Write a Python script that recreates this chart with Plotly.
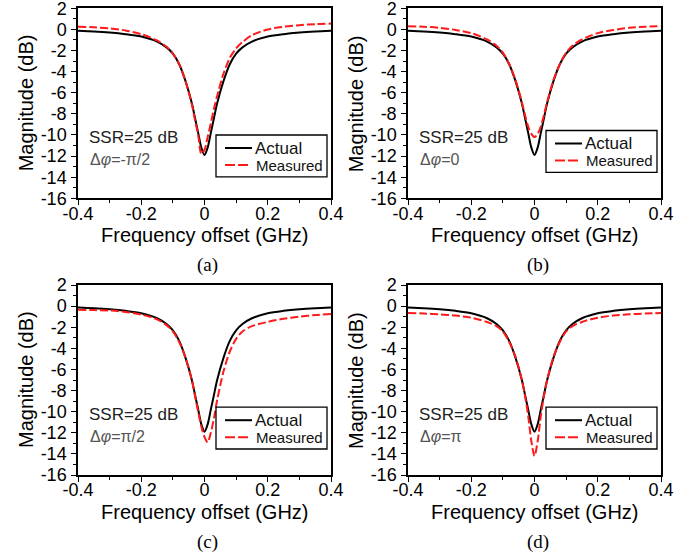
import plotly.graph_objects as go

# ---------------- data ----------------
freq = [-0.4, -0.35, -0.3, -0.25, -0.2, -0.15, -0.12, -0.1, -0.08, -0.06, -0.04, -0.03,
        -0.02, -0.01, 0.0, 0.01, 0.02, 0.03, 0.04, 0.06, 0.08, 0.1, 0.12, 0.15, 0.2,
        0.25, 0.3, 0.35, 0.4]

actual = [-0.13, -0.2, -0.3, -0.45, -0.68, -1.15, -1.7, -2.3, -3.3, -4.9, -7.0, -8.4,
          -9.8, -11.2, -11.9, -11.2, -9.8, -8.4, -7.0, -4.9, -3.3, -2.3, -1.7, -1.15, -0.68,
          -0.45, -0.3, -0.2, -0.13]

measured_a = [0.25, 0.2, 0.1, -0.1, -0.45, -1.05, -1.65, -2.3, -3.3, -4.9, -7.1, -8.6,
              -10.0, -11.8, -11.4, -10.2, -8.9, -7.5, -6.3, -4.2, -2.7, -1.8, -1.2, -0.55, 0.0,
              0.25, 0.4, 0.5, 0.55]

measured_b = [0.3, 0.25, 0.15, -0.05, -0.35, -0.95, -1.55, -2.2, -3.3, -4.8, -6.9, -8.1,
              -9.2, -9.9, -10.2, -9.9, -9.2, -8.1, -6.9, -4.8, -3.3, -2.2, -1.55, -0.95, -0.35,
              -0.05, 0.15, 0.25, 0.3]

measured_c = [-0.35, -0.38, -0.42, -0.55, -0.8, -1.25, -1.8, -2.4, -3.4, -4.9, -7.0, -8.5,
              -10.0, -11.4, -12.4, -12.9, -12.0, -10.6, -8.9, -6.2, -4.3, -3.1, -2.4, -1.9, -1.5,
              -1.2, -1.0, -0.85, -0.75]

measured_d = [-0.65, -0.7, -0.78, -0.9, -1.1, -1.5, -1.9, -2.4, -3.4, -4.8, -7.0, -8.5,
              -10.4, -12.8, -14.2, -12.8, -10.4, -8.5, -7.0, -4.8, -3.4, -2.4, -1.9, -1.5, -1.1,
              -0.9, -0.78, -0.7, -0.65]

measured_sets = [measured_a, measured_b, measured_c, measured_d]
phase_labels = ["-π/2", "0", "π/2", "π"]
panel_tags = ["(a)", "(b)", "(c)", "(d)"]
ssr_label = "SSR=25 dB"
series_names = ["Actual", "Measured"]

x_tickvals = [-0.4, -0.2, 0.0, 0.2, 0.4]
x_ticktext = ["-0.4", "-0.2", "0", "0.2", "0.4"]
y_tickvals = [2, 0, -2, -4, -6, -8, -10, -12, -14, -16]
y_ticktext = ["2", "0", "-2", "-4", "-6", "-8", "-10", "-12", "-14", "-16"]
x_title = "Frequency offset (GHz)"
y_title = "Magnitude (dB)"

# ---------------- layout geometry (pixels) ----------------
W, H = 695, 553
PW, PH = 253, 190
panel_pos = [(78, 8.3), (408, 8.3), (78, 285), (408, 285)]   # plot top-left corners
legend_shift = [0, -4.5, -4.5, -4.5]

SANS = "Liberation Sans, Arial, sans-serif"
SERIF = "Liberation Serif, Times New Roman, serif"
RED = "#ff1a1a"

fig = go.Figure()
shapes = []
annotations = []

for i in range(4):
    n = i + 1
    xs = "" if n == 1 else str(n)
    left, top = panel_pos[i]
    xdom = [left / W, (left + PW) / W]
    ydom = [1 - (top + PH) / H, 1 - top / H]

    fig.add_trace(go.Scatter(x=freq, y=actual, mode="lines", name=series_names[0],
                             line=dict(color="black", width=2, shape="spline", smoothing=0.8),
                             xaxis="x" + xs, yaxis="y" + xs, showlegend=False))
    fig.add_trace(go.Scatter(x=freq, y=measured_sets[i], mode="lines", name=series_names[1],
                             line=dict(color=RED, width=2, dash="8px,3px", shape="spline",
                                       smoothing=0.8),
                             xaxis="x" + xs, yaxis="y" + xs, showlegend=False))

    axis_common = dict(showline=True, mirror=True, linecolor="black", linewidth=1.5,
                       showgrid=False, zeroline=False, ticks="outside", ticklen=5,
                       tickwidth=1.3, tickcolor="black", automargin=False,
                       ticklabeloverflow="allow",
                       tickfont=dict(family=SANS, size=18, color="black"))
    fig.update_layout(**{
        "xaxis" + xs: dict(axis_common, domain=xdom, anchor="y" + xs, range=[-0.4, 0.4],
                           tickmode="array", tickvals=x_tickvals, ticktext=x_ticktext,
                           ticklabelstandoff=-7,
                           minor=dict(ticks="outside", ticklen=3, tickwidth=1.2,
                                      tickcolor="black", tick0=-0.4, dtick=0.1)),
        "yaxis" + xs: dict(axis_common, domain=ydom, anchor="x" + xs, range=[-16, 2],
                           tickmode="array", tickvals=y_tickvals, ticktext=y_ticktext,
                           ticklabelstandoff=1,
                           minor=dict(ticks="outside", ticklen=3, tickwidth=1.2,
                                      tickcolor="black", tick0=0, dtick=1)),
    })

    xr, yr = "x" + xs + " domain", "y" + xs + " domain"

    def fx(px):
        return px / PW

    def fy(py):
        return 1 - py / PH

    s = legend_shift[i]
    # legend box
    shapes.append(dict(type="rect", xref=xr, yref=yr, x0=fx(138), x1=fx(249),
                       y0=fy(168.5 + s), y1=fy(126.7 + s),
                       line=dict(color="black", width=1.3), fillcolor="white", layer="above"))
    shapes.append(dict(type="line", xref=xr, yref=yr, x0=fx(147), x1=fx(174),
                       y0=fy(139.7 + s), y1=fy(139.7 + s),
                       line=dict(color="black", width=2), layer="above"))
    shapes.append(dict(type="line", xref=xr, yref=yr, x0=fx(147), x1=fx(170),
                       y0=fy(156.7 + s), y1=fy(156.7 + s),
                       line=dict(color=RED, width=2, dash="10px,3px"), layer="above"))
    annotations.append(dict(xref=xr, yref=yr, x=fx(175), y=fy(139.7 + s), text=series_names[0],
                            showarrow=False, xanchor="left", yanchor="middle",
                            font=dict(family=SANS, size=17, color="#111")))
    annotations.append(dict(xref=xr, yref=yr, x=fx(176), y=fy(156.7 + s), text=series_names[1],
                            showarrow=False, xanchor="left", yanchor="middle",
                            font=dict(family=SANS, size=15, color="#111")))
    # SSR and phase text
    annotations.append(dict(xref=xr, yref=yr, x=fx(9), y=fy(129), text=ssr_label,
                            showarrow=False, xanchor="left", yanchor="middle",
                            font=dict(family=SANS, size=17, color="#222")))
    annotations.append(dict(xref=xr, yref=yr, x=fx(10), y=fy(151),
                            text="Δ<i>φ</i>=" + phase_labels[i],
                            showarrow=False, xanchor="left", yanchor="middle",
                            font=dict(family=SANS, size=16, color="#555")))
    # axis titles
    annotations.append(dict(xref="paper", yref="paper", x=(left + PW / 2) / W,
                            y=1 - (top + 227) / H, text=x_title, showarrow=False,
                            xanchor="center", yanchor="middle",
                            font=dict(family=SANS, size=20, color="black")))
    annotations.append(dict(xref="paper", yref="paper", x=(left - 52) / W,
                            y=1 - (top + 95) / H, text=y_title, showarrow=False,
                            textangle=-90, xanchor="center", yanchor="middle",
                            font=dict(family=SANS, size=20, color="black")))
    # panel tag
    annotations.append(dict(xref="paper", yref="paper", x=(left + PW / 2 + 3) / W,
                            y=1 - (top + 257) / H, text=panel_tags[i], showarrow=False,
                            xanchor="center", yanchor="middle",
                            font=dict(family=SERIF, size=19, color="black")))

fig.update_layout(template="none", width=W, height=H, margin=dict(l=0, r=0, t=0, b=0),
                  paper_bgcolor="white", plot_bgcolor="white",
                  shapes=shapes, annotations=annotations, showlegend=False)

fig.write_html("out.html", config={"displayModeBar": False},
               post_script="document.body.style.margin='0';")
